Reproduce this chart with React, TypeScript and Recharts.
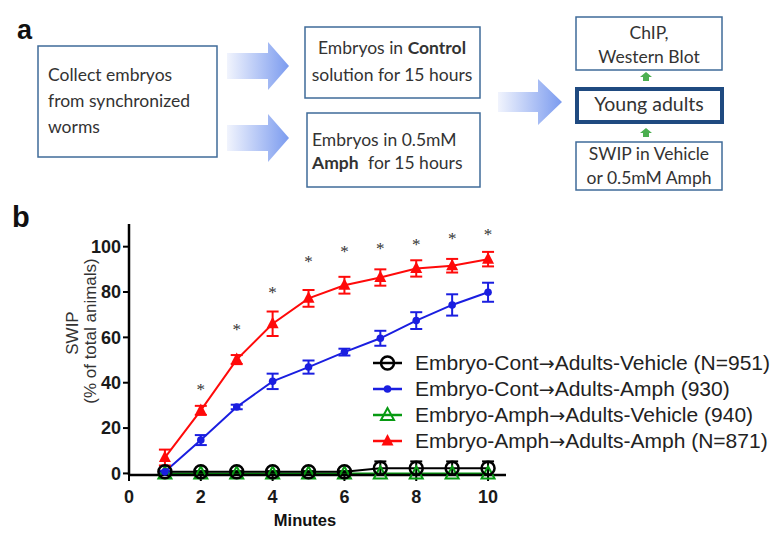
import React from 'react';
import { ComposedChart, Line, XAxis, YAxis, ErrorBar, Legend, Label } from 'recharts';

// minutes in the swim test
const minutes = [1, 2, 3, 4, 5, 6, 7, 8, 9, 10];
// Embryo-Cont -> Adults-Vehicle
const contVehicle = [0.7, 0.7, 0.7, 0.7, 0.7, 0.7, 2.3, 2.3, 2.3, 2.3];
const contVehicleErr = [0.3, 0.3, 0.3, 0.3, 0.3, 0.3, 3, 3, 3, 3];
// Embryo-Cont -> Adults-Amph
const contAmph = [0.7, 14.7, 29.3, 40.6, 46.9, 53.5, 59.6, 67.4, 74.3, 79.9];
const contAmphErr = [0.5, 2.2, 1, 3.4, 2.9, 1.5, 3.3, 3.7, 4.7, 4.2];
// Embryo-Amph -> Adults-Vehicle
const amphVehicle = [0, 0, 0, 0, 0, 0, 0, 0, 0, 0];
// Embryo-Amph -> Adults-Amph
const amphAmph = [7, 27.8, 50.2, 66, 77.2, 83, 86.4, 90.4, 91.6, 94.5];
const amphAmphErr = [3.5, 2, 2, 5.4, 3.7, 3.7, 3.6, 3.6, 3, 3.2];
// significance stars (height where the * sits)
const starHeights = [null, 38.4, 64.8, 81.3, 94.8, 99.2, 100.7, 102.6, 105, 107];

const xTicks = [0, 2, 4, 6, 8, 10];
const yTicks = [0, 20, 40, 60, 80, 100];

const legendItems = [
  { name: 'Embryo-Cont\u2192Adults-Vehicle (N=951)', kind: 'openCircle', color: '#000000' },
  { name: 'Embryo-Cont\u2192Adults-Amph (930)', kind: 'dot', color: '#1a1ee0' },
  { name: 'Embryo-Amph\u2192Adults-Vehicle (940)', kind: 'openTri', color: '#079a12' },
  { name: 'Embryo-Amph\u2192Adults-Amph (N=871)', kind: 'tri', color: '#ff0a0a' },
];

const data = minutes.map((m, i) => ({
  minute: m,
  cv: contVehicle[i],
  cvErr: contVehicleErr[i],
  ca: contAmph[i],
  caErr: contAmphErr[i],
  av: amphVehicle[i],
  aa: amphAmph[i],
  aaErr: amphAmphErr[i],
  star: starHeights[i],
}));

const marker = (kind: string, color: string, cx: number, cy: number) => {
  if (kind === 'openCircle')
    return <circle cx={cx} cy={cy} r={6.5} fill="none" stroke={color} strokeWidth={2.5} />;
  if (kind === 'dot') return <circle cx={cx} cy={cy} r={3.8} fill={color} />;
  if (kind === 'openTri')
    return (
      <polygon
        points={`${cx},${cy - 7} ${cx - 6.5},${cy + 5} ${cx + 6.5},${cy + 5}`}
        fill="none"
        stroke={color}
        strokeWidth={2}
      />
    );
  return <polygon points={`${cx},${cy - 7} ${cx - 6},${cy + 4.5} ${cx + 6},${cy + 4.5}`} fill={color} />;
};

const dotOf = (kind: string, color: string) => (props: any) => {
  const { cx, cy, index } = props;
  if (cx == null || cy == null) return <g key={`${kind}-${index}`} />;
  return <g key={`${kind}-${index}`}>{marker(kind, color, cx, cy)}</g>;
};

const renderStar = (props: any) => {
  const { cx, cy, index } = props;
  if (cx == null || cy == null) return <g key={`star-${index}`} />;
  return (
    <text key={`star-${index}`} x={cx} y={cy + 9} textAnchor="middle" fontSize={17} fill="#333">
      *
    </text>
  );
};

const renderLegend = () => (
  <div style={{ fontFamily: 'Liberation Sans, Arial, sans-serif', fontSize: 21, color: '#222' }}>
    {legendItems.map((it) => {
      const [left, right] = it.name.split('\u2192');
      return (
        <div key={it.name} style={{ display: 'flex', alignItems: 'center', height: 26, whiteSpace: 'nowrap' }}>
          <svg width={42} height={26} style={{ flex: 'none' }}>
            <line x1={3} y1={13} x2={32} y2={13} stroke={it.color} strokeWidth={2.5} />
            {marker(it.kind, it.color, 17.5, 13)}
          </svg>
          <span style={{ marginLeft: 3 }}>
            {left}
            <span style={{ fontFamily: 'DejaVu Sans, sans-serif', fontSize: 19 }}>{'\u2192'}</span>
            {right}
          </span>
        </div>
      );
    })}
  </div>
);

const boxText = { fontFamily: 'Lato, sans-serif', fontSize: 17.5, fill: '#333' };

const Arrow = ({ x0, x1, x2, cy, shaft, head }: any) => (
  <polygon
    points={`${x0},${cy - shaft} ${x1},${cy - shaft} ${x1},${cy - head} ${x2},${cy} ${x1},${cy + head} ${x1},${cy + shaft} ${x0},${cy + shaft}`}
    fill="url(#arrowGrad)"
  />
);

const Flow = () => (
  <svg width={771} height={534} style={{ position: 'absolute', left: 0, top: 0 }}>
    <defs>
      <linearGradient id="arrowGrad" x1="0" y1="0" x2="1" y2="0">
        <stop offset="0%" stopColor="#f1f4fd" />
        <stop offset="100%" stopColor="#7b9bef" />
      </linearGradient>
    </defs>
    <text x={17} y={39} fontFamily="Liberation Sans, Arial" fontWeight="bold" fontSize={27} fill="#111">a</text>
    <text x={12} y={227} fontFamily="Liberation Sans, Arial" fontWeight="bold" fontSize={29} fill="#111">b</text>

    <rect x={38} y={46} width={179} height={111} fill="#fff" stroke="#3f6b99" strokeWidth={1.5} />
    <text x={48} y={81} {...boxText}>Collect embryos</text>
    <text x={48} y={107} {...boxText}>from synchronized</text>
    <text x={48} y={133} {...boxText}>worms</text>

    <Arrow x0={227} x1={268} x2={289} cy={66} shaft={13} head={24} />
    <Arrow x0={227} x1={268} x2={289} cy={138} shaft={13} head={24} />

    <rect x={305} y={27} width={175} height={71} fill="#fff" stroke="#3f6b99" strokeWidth={1.5} />
    <text x={392} y={54} textAnchor="middle" {...boxText}>
      Embryos in <tspan fontWeight="bold">Control</tspan>
    </text>
    <text x={392} y={81} textAnchor="middle" {...boxText}>solution for 15 hours</text>

    <rect x={307} y={113} width={173} height={74} fill="#fff" stroke="#3f6b99" strokeWidth={1.5} />
    <text x={312} y={146} {...boxText}>Embryos in 0.5mM</text>
    <text x={312} y={169} {...boxText}>
      <tspan fontWeight="bold">Amph</tspan>
      <tspan dx={5}> for 15 hours</tspan>
    </text>

    <Arrow x0={498} x1={538} x2={562} cy={102} shaft={10} head={23} />

    <rect x={576} y={17} width={146} height={53} fill="#fff" stroke="#3f6b99" strokeWidth={1.5} />
    <text x={649} y={39} textAnchor="middle" {...boxText}>ChIP,</text>
    <text x={649} y={63} textAnchor="middle" {...boxText}>Western Blot</text>

    <polygon points="646,72 652,77 649,77 649,81 643,81 643,77 640,77" fill="#4caf50" />

    <rect x={577} y={89} width={145} height={33} fill="#fff" stroke="#1f4a80" strokeWidth={4} />
    <text x={649} y={111} textAnchor="middle" {...boxText} fontSize={19.5}>Young adults</text>

    <polygon points="646,128 652,133 649,133 649,137 643,137 643,133 640,133" fill="#4caf50" />

    <rect x={576} y={142} width={146} height={48} fill="#fff" stroke="#3f6b99" strokeWidth={1.5} />
    <text x={649} y={160} textAnchor="middle" {...boxText}>SWIP in Vehicle</text>
    <text x={649} y={184} textAnchor="middle" {...boxText}>or 0.5mM Amph</text>
  </svg>
);

const tickStyle = { fontFamily: 'Liberation Sans, Arial, sans-serif', fontSize: 18, fontWeight: 'bold', fill: '#1a1a1a' };

const YTitle = (props: any) => {
  return (
    <g fontFamily="Liberation Sans, Arial, sans-serif" fontSize={17} fill="#333">
      <text x={78} y={133} textAnchor="middle" transform="rotate(-90 78 133)">SWIP</text>
      <text x={96} y={131} textAnchor="middle" transform="rotate(-90 96 131)">(% of total animals)</text>
    </g>
  );
};

const XTitle = (props: any) => {
  return (
    <text x={305} y={326} textAnchor="middle" fontFamily="Liberation Sans, Arial, sans-serif" fontSize={16.5} fontWeight="bold" fill="#111">
      Minutes
    </text>
  );
};

export default function App() {
  return (
    <div style={{ position: 'absolute', left: 0, top: 0, width: 771, height: 534, background: '#fff', overflow: 'hidden' }}>
      <Flow />
      <div style={{ position: 'absolute', left: 0, top: 200 }}>
        <ComposedChart width={771} height={334} data={data} margin={{ top: 24, right: 265, bottom: 29, left: 69 }}>
          <XAxis
            dataKey="minute"
            type="number"
            domain={[0, 10.5]}
            ticks={xTicks}
            height={30}
            axisLine={{ stroke: '#000', strokeWidth: 2.5 }}
            tickLine={{ stroke: '#000', strokeWidth: 2 }}
            tickSize={6}
            tickMargin={9}
            tick={tickStyle}
          >
            <Label content={<XTitle />} />
          </XAxis>
          <YAxis
            type="number"
            domain={[0, 110]}
            ticks={yTicks}
            width={60}
            axisLine={{ stroke: '#000', strokeWidth: 2.5 }}
            tickLine={{ stroke: '#000', strokeWidth: 2 }}
            tickSize={6}
            tickMargin={2}
            tick={tickStyle}
          >
            <Label content={<YTitle />} />
          </YAxis>
          <Legend
            layout="horizontal"
            verticalAlign="middle"
            align="center"
            content={renderLegend}
            wrapperStyle={{ left: 370, top: 150, width: 401 }}
          />
          <Line dataKey="av" stroke="#079a12" strokeWidth={2} dot={dotOf('openTri', '#079a12')} activeDot={false} isAnimationActive={false} />
          <Line dataKey="cv" stroke="#000" strokeWidth={2} dot={dotOf('openCircle', '#000')} activeDot={false} isAnimationActive={false}>
            <ErrorBar dataKey="cvErr" direction="y" width={6} stroke="#000" strokeWidth={2} isAnimationActive={false} />
          </Line>
          <Line dataKey="ca" stroke="#1a1ee0" strokeWidth={2} dot={dotOf('dot', '#1a1ee0')} activeDot={false} isAnimationActive={false}>
            <ErrorBar dataKey="caErr" direction="y" width={6} stroke="#1a1ee0" strokeWidth={2} isAnimationActive={false} />
          </Line>
          <Line dataKey="aa" stroke="#ff0a0a" strokeWidth={2} dot={dotOf('tri', '#ff0a0a')} activeDot={false} isAnimationActive={false}>
            <ErrorBar dataKey="aaErr" direction="y" width={6} stroke="#ff0a0a" strokeWidth={2} isAnimationActive={false} />
          </Line>
          <Line dataKey="star" stroke="none" dot={renderStar} activeDot={false} legendType="none" isAnimationActive={false} />
        </ComposedChart>
      </div>
    </div>
  );
}
